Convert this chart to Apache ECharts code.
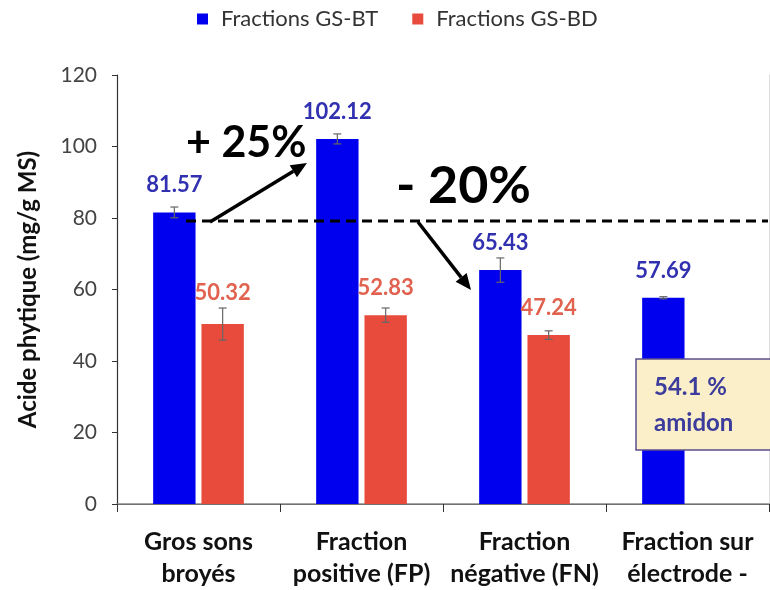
<!DOCTYPE html>
<html>
<head>
<meta charset="utf-8">
<script src="https://cdn.jsdelivr.net/npm/echarts@6/dist/echarts.min.js"></script>
<style>html,body{margin:0;padding:0;background:#fff;}#c{width:770px;height:590px;}</style>
</head>
<body>
<div id="c"></div>
<script>
const categories = ['Gros sons\nbroyés', 'Fraction\npositive (FP)', 'Fraction\nnégative (FN)', 'Fraction sur\nélectrode -'];
const seriesNames = ['Fractions GS-BT', 'Fractions GS-BD'];
const valuesBT = [81.57, 102.12, 65.43, 57.69];
const valuesBD = [50.32, 52.83, 47.24, null];
const errBT = [1.5, 1.4, 3.4, 0.3];
const errBD = [4.5, 2.0, 1.2, null];
const yMin = 0, yMax = 120, yStep = 20;
const yName = 'Acide phytique (mg/g MS)';
const noteLines = ['54.1 %', 'amidon'];
const noteUp = '+ 25%';
const noteDown = '- 20%';

const FONT = 'Lato';
const BLUE = '#0000ee', RED = '#e84a3b';
const BAR_W = 0.26, BAR_GAP = 0.14;
const GRID = { left: 117, right: 1, top: 75, bottom: 85 };
const PX_PER_UNIT = (590 - GRID.top - GRID.bottom) / (yMax - yMin);

function errData(vals, errs) {
  const out = [];
  vals.forEach((v, i) => { if (v != null && errs[i] != null) out.push([i, v + errs[i], v - errs[i]]); });
  return out;
}
function errSeries(vals, errs, sign) {
  return {
    type: 'custom', z: 5,
    data: errData(vals, errs),
    encode: { x: 0, y: [1, 2] },
    renderItem: function (params, api) {
      const ci = api.value(0);
      const hi = api.coord([ci, api.value(1)]);
      const lo = api.coord([ci, api.value(2)]);
      const catW = api.size([1, 0])[0];
      const bw = catW * BAR_W;
      const x = hi[0] + sign * (bw + bw * BAR_GAP) / 2;
      const cap = 4;
      const st = { stroke: '#666', lineWidth: 1.2 };
      return { type: 'group', children: [
        { type: 'line', shape: { x1: x, y1: hi[1], x2: x, y2: lo[1] }, style: st },
        { type: 'line', shape: { x1: x - cap, y1: hi[1], x2: x + cap, y2: hi[1] }, style: st },
        { type: 'line', shape: { x1: x - cap, y1: lo[1], x2: x + cap, y2: lo[1] }, style: st }
      ]};
    }
  };
}
function barSeries(name, vals, errs, color, labelColor) {
  return {
    name: name, type: 'bar',
    data: vals.map((v, i) => v == null ? null : {
      value: v,
      label: { distance: Math.max(16, (errs[i] || 0) * PX_PER_UNIT + 4) }
    }),
    barWidth: (BAR_W * 100) + '%', barGap: (BAR_GAP * 100) + '%',
    itemStyle: { color: color },
    label: { show: true, position: 'top', formatter: p => p.value.toFixed(2),
      color: labelColor, fontFamily: FONT, fontWeight: 'bold', fontSize: 22 }
  };
}
function arrow(x1, y1, x2, y2) {
  const a = Math.atan2(y2 - y1, x2 - x1), L = 16, W = 7;
  const bx = x2 - L * Math.cos(a), by = y2 - L * Math.sin(a);
  const px = -Math.sin(a) * W, py = Math.cos(a) * W;
  return [
    { type: 'line', shape: { x1: x1, y1: y1, x2: bx, y2: by }, style: { stroke: '#000', lineWidth: 3.5 }, z: 10 },
    { type: 'polygon', shape: { points: [[x2, y2], [bx + px, by + py], [bx - px, by - py]] }, style: { fill: '#000' }, z: 10 }
  ];
}

const chart = echarts.init(document.getElementById('c'), null, { renderer: 'canvas' });
chart.setOption({
  animation: false,
  backgroundColor: '#fff',
  legend: {
    top: 3, left: 192, itemGap: 34, itemWidth: 11, itemHeight: 11, icon: 'rect',
    data: seriesNames,
    textStyle: { fontFamily: FONT, fontSize: 22, color: '#333', padding: [0, 0, 0, 8] }
  },
  grid: GRID,
  xAxis: [{
    type: 'category', data: categories,
    axisLine: { lineStyle: { color: '#333', width: 1.2 } },
    axisTick: { show: true, length: 8, lineStyle: { color: '#333' } },
    axisLabel: { interval: 0, margin: 22, fontFamily: FONT, fontWeight: 'bold', fontSize: 25, color: '#111', lineHeight: 32 }
  }, {
    type: 'category', data: categories, position: 'top',
    axisLine: { lineStyle: { color: '#888', width: 1.5 } },
    axisTick: { show: false }, axisLabel: { show: false }
  }],
  yAxis: [{
    type: 'value', min: yMin, max: yMax, interval: yStep,
    name: yName, nameLocation: 'middle', nameGap: 77,
    nameTextStyle: { fontFamily: FONT, fontWeight: 'bold', fontSize: 24, color: '#111' },
    axisLine: { show: true, lineStyle: { color: '#333', width: 1.2 } },
    axisTick: { show: true, length: 5, lineStyle: { color: '#333' } },
    splitLine: { show: false },
    axisLabel: { margin: 20, fontFamily: FONT, fontSize: 21, color: '#444' }
  }, {
    type: 'value', min: yMin, max: yMax, interval: yStep, position: 'right',
    axisLine: { show: true, lineStyle: { color: '#ddd', width: 1 } },
    axisTick: { show: false }, axisLabel: { show: false }, splitLine: { show: false }
  }],
  series: [
    barSeries(seriesNames[0], valuesBT, errBT, BLUE, '#3030b0'),
    barSeries(seriesNames[1], valuesBD, errBD, RED, '#e0624f'),
    errSeries(valuesBT, errBT, -1),
    errSeries(valuesBD, errBD, 1)
  ],
  graphic: [
    { type: 'line', shape: { x1: 186, y1: 221, x2: 768, y2: 221 }, style: { stroke: '#000', lineWidth: 3, lineDash: [10, 6] }, z: 10 },
    ...arrow(210, 222, 307, 163),
    ...arrow(418, 222, 471, 290),
    { type: 'text', left: 186, top: 122, z: 10, style: { text: noteUp, fontFamily: FONT, fontWeight: 'bold', fontSize: 43, fill: '#000' } },
    { type: 'text', left: 396, top: 160, z: 10, style: { text: noteDown, fontFamily: FONT, fontWeight: 'bold', fontSize: 52, fill: '#000' } },
    { type: 'rect', shape: { x: 636, y: 359, width: 140, height: 91 }, style: { fill: '#fbefc9', stroke: '#5b4f8f', lineWidth: 1.5 }, z: 10 },
    { type: 'text', left: 654, top: 369, z: 11, style: { text: noteLines.join('\n'), fontFamily: FONT, fontWeight: 'bold', fontSize: 24, lineHeight: 36, fill: '#3c3c9c' } }
  ]
});
</script>
</body>
</html>
